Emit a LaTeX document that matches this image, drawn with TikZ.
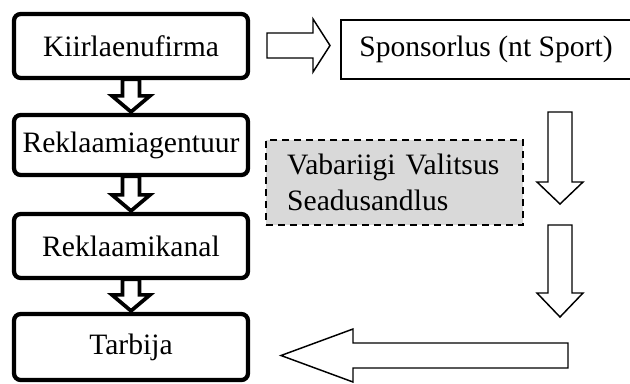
\documentclass[tikz,border=0pt]{standalone}
\usepackage{fontspec}
\setmainfont{Liberation Serif}
\usetikzlibrary{calc}
\begin{document}
\begin{tikzpicture}[x=0.75pt,y=-0.75pt,
  every node/.style={font=\fontsize{22.2}{26.5}\selectfont},
  mainbox/.style={draw, line width=3.2pt, rounded corners=5pt, minimum width=175.5pt, inner sep=0pt},
  plainbox/.style={draw, line width=1.2pt, inner sep=0pt},
  lawbox/.style={draw, line width=1.8pt, dash pattern=on 5.5pt off 3.5pt, fill=gray!30, inner xsep=15.75pt, inner ysep=0pt, align=left, text width=161pt},
  smallarrow/.style={draw, line width=2.8pt, miter limit=10, fill=white},
  hollowarrow/.style={draw, line width=1.1pt, miter limit=10, fill=white}]
\useasboundingbox (0,0) rectangle (630,383);
% left column
\node[mainbox, minimum height=48pt] (b1) at (131,46) {Kiirlaenufirma};
\node[mainbox, minimum height=45pt] (b2) at (131,145) {Reklaamiagentuur};
\node[mainbox, minimum height=48pt] (b3) at (131,246) {Reklaamikanal};
\node[mainbox, minimum height=49.5pt] (b4) at (131,347) {Tarbija};
% right boxes
\node[plainbox, minimum width=220.5pt, minimum height=44.25pt] (sp) at (488,49.5) {\hspace*{-3pt}Sponsorlus (nt Sport)};
\node[lawbox, minimum width=192.75pt, minimum height=63.75pt] (law) at (394.5,182.5) {Vabariigi Valitsus\\Seadusandlus};
% small thick arrows between left boxes
\foreach \a/\b in {b1/b2, b2/b3, b3/b4}{
  \path[smallarrow] ($(\a.south)+(-8.5,-1)$) -- ($(\b.north)+(-8.5,-17)$) -- ($(\b.north)+(-19,-17)$)
     -- ($(\b.north)+(0,-1)$) -- ($(\b.north)+(19,-17)$) -- ($(\b.north)+(8.5,-17)$)
     -- ($(\a.south)+(8.5,-1)$) -- cycle;
}
% hollow arrows
\coordinate (r1s) at (267,45.5);
\coordinate (r1e) at (330,45.5);
\path[hollowarrow] ($(r1s)+(0,-12.5)$) -- ($(r1e)+(-17,-12.5)$) -- ($(r1e)+(-17,-26.5)$) -- (r1e)
   -- ($(r1e)+(-17,26.5)$) -- ($(r1e)+(-17,12.5)$) -- ($(r1s)+(0,12.5)$) -- cycle;
\coordinate (d1s) at (560,112);
\coordinate (d1e) at (560,204);
\path[hollowarrow] ($(d1s)+(-12,0)$) -- ($(d1e)+(-12,-22)$) -- ($(d1e)+(-23,-22)$) -- (d1e)
   -- ($(d1e)+(23,-22)$) -- ($(d1e)+(12,-22)$) -- ($(d1s)+(12,0)$) -- cycle;
\coordinate (d2s) at (560,225);
\coordinate (d2e) at (560,317);
\path[hollowarrow] ($(d2s)+(-12,0)$) -- ($(d2e)+(-12,-24)$) -- ($(d2e)+(-23,-24)$) -- (d2e)
   -- ($(d2e)+(23,-24)$) -- ($(d2e)+(12,-24)$) -- ($(d2s)+(12,0)$) -- cycle;
\coordinate (l1s) at (568,355.5);
\coordinate (l1e) at (281,355.5);
\path[hollowarrow] ($(l1s)+(0,-12.5)$) -- ($(l1e)+(72,-12.5)$) -- ($(l1e)+(72,-26.5)$) -- (l1e)
   -- ($(l1e)+(72,26.5)$) -- ($(l1e)+(72,12.5)$) -- ($(l1s)+(0,12.5)$) -- cycle;
\end{tikzpicture}
\end{document}
